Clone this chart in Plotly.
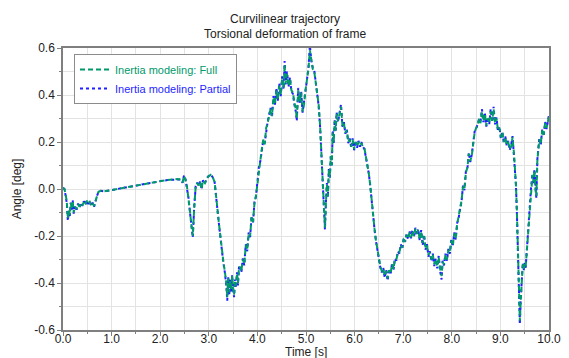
import plotly.graph_objects as go

# Time samples [s]
time_s = [
    0.00, 0.03, 0.06, 0.08, 0.10, 0.12, 0.14, 0.16, 0.18, 0.20, 0.22, 0.25, 0.28, 0.31, 0.34, 0.37,
    0.40, 0.43, 0.46, 0.49, 0.52, 0.55, 0.58, 0.61, 0.64, 0.67, 0.70, 0.73, 0.78, 0.85, 0.95, 1.05,
    1.15, 1.25, 1.35, 1.45, 1.55, 1.65, 1.75, 1.85, 1.95, 2.05, 2.15, 2.25, 2.35, 2.42, 2.46, 2.49,
    2.52, 2.55, 2.58, 2.61, 2.64, 2.67, 2.70, 2.73, 2.76, 2.79, 2.82, 2.85, 2.88, 2.92, 2.96, 3.00,
    3.04, 3.08, 3.12, 3.15, 3.18, 3.21, 3.24, 3.27, 3.30, 3.33, 3.36, 3.38, 3.40, 3.42, 3.44, 3.46,
    3.48, 3.50, 3.52, 3.54, 3.56, 3.58, 3.60, 3.62, 3.64, 3.67, 3.70, 3.73, 3.76, 3.79, 3.82, 3.85,
    3.88, 3.91, 3.94, 3.97, 4.00, 4.03, 4.06, 4.09, 4.12, 4.15, 4.18, 4.21, 4.24, 4.27, 4.30, 4.33,
    4.36, 4.39, 4.42, 4.45, 4.48, 4.51, 4.54, 4.56, 4.58, 4.61, 4.64, 4.67, 4.70, 4.73, 4.76, 4.79,
    4.81, 4.84, 4.87, 4.90, 4.93, 4.96, 4.99, 5.02, 5.05, 5.08, 5.11, 5.14, 5.17, 5.20, 5.23, 5.26,
    5.29, 5.32, 5.35, 5.37, 5.39, 5.41, 5.43, 5.45, 5.47, 5.49, 5.51, 5.53, 5.55, 5.57, 5.59, 5.61,
    5.63, 5.66, 5.69, 5.72, 5.75, 5.78, 5.81, 5.84, 5.87, 5.90, 5.93, 5.96, 5.99, 6.02, 6.05, 6.08,
    6.11, 6.14, 6.17, 6.20, 6.23, 6.26, 6.29, 6.32, 6.35, 6.38, 6.41, 6.44, 6.47, 6.50, 6.53, 6.56,
    6.59, 6.62, 6.65, 6.68, 6.71, 6.74, 6.77, 6.80, 6.83, 6.86, 6.89, 6.92, 6.95, 6.98, 7.01, 7.04,
    7.07, 7.10, 7.13, 7.16, 7.19, 7.22, 7.25, 7.28, 7.31, 7.34, 7.37, 7.40, 7.43, 7.46, 7.49, 7.52,
    7.55, 7.58, 7.61, 7.64, 7.67, 7.70, 7.73, 7.76, 7.79, 7.81, 7.84, 7.87, 7.90, 7.93, 7.96, 7.99,
    8.02, 8.05, 8.08, 8.11, 8.14, 8.17, 8.20, 8.23, 8.26, 8.29, 8.32, 8.35, 8.38, 8.41, 8.44, 8.47,
    8.50, 8.53, 8.56, 8.59, 8.62, 8.65, 8.68, 8.71, 8.74, 8.77, 8.80, 8.83, 8.86, 8.89, 8.92, 8.95,
    8.98, 9.01, 9.04, 9.07, 9.10, 9.13, 9.16, 9.19, 9.22, 9.25, 9.28, 9.30, 9.32, 9.34, 9.36, 9.38,
    9.40, 9.42, 9.44, 9.46, 9.48, 9.50, 9.52, 9.54, 9.57, 9.60, 9.63, 9.66, 9.68, 9.70, 9.72, 9.74,
    9.76, 9.78, 9.80, 9.83, 9.86, 9.89, 9.92, 9.95, 9.98, 10.00,
]

# Frame torsion angle [deg], full inertia model
angle_full = [
    0.005, 0.000, -0.030, -0.060, -0.125, -0.090, -0.110, -0.060, -0.085, -0.050, -0.100, -0.075, -0.085, -0.065, -0.075, -0.060,
    -0.070, -0.055, -0.065, -0.050, -0.062, -0.055, -0.070, -0.060, -0.072, -0.045, -0.030, -0.012, -0.008, -0.010, -0.006, -0.002,
    0.002, 0.006, 0.009, 0.013, 0.018, 0.021, 0.025, 0.029, 0.032, 0.035, 0.038, 0.040, 0.042, 0.040, 0.028, 0.055,
    0.040, 0.012, -0.030, -0.090, -0.150, -0.200, -0.080, 0.010, 0.025, 0.015, 0.030, 0.000, 0.035, 0.025, 0.045, 0.055,
    0.060, 0.050, 0.030, -0.020, -0.090, -0.150, -0.210, -0.260, -0.310, -0.350, -0.400, -0.460, -0.380, -0.440, -0.390, -0.430,
    -0.370, -0.420, -0.450, -0.390, -0.410, -0.360, -0.400, -0.340, -0.330, -0.350, -0.300, -0.320, -0.240, -0.260, -0.190, -0.200,
    -0.120, -0.140, -0.060, -0.030, 0.030, 0.090, 0.120, 0.170, 0.210, 0.190, 0.260, 0.280, 0.320, 0.340, 0.310, 0.390,
    0.360, 0.420, 0.380, 0.440, 0.400, 0.470, 0.430, 0.530, 0.450, 0.490, 0.440, 0.470, 0.420, 0.410, 0.370, 0.340,
    0.300, 0.420, 0.370, 0.410, 0.330, 0.360, 0.420, 0.460, 0.510, 0.590, 0.540, 0.510, 0.500, 0.450, 0.420, 0.360,
    0.270, 0.150, 0.020, -0.080, -0.165, -0.060, 0.020, -0.030, 0.080, 0.050, 0.140, 0.100, 0.240, 0.200, 0.290, 0.250,
    0.320, 0.290, 0.320, 0.350, 0.270, 0.280, 0.240, 0.250, 0.200, 0.210, 0.180, 0.210, 0.170, 0.200, 0.180, 0.200,
    0.185, 0.195, 0.180, 0.175, 0.140, 0.110, 0.070, 0.020, -0.050, -0.110, -0.170, -0.220, -0.260, -0.300, -0.330, -0.350,
    -0.340, -0.370, -0.350, -0.380, -0.345, -0.360, -0.320, -0.340, -0.300, -0.300, -0.270, -0.270, -0.240, -0.250, -0.215, -0.220,
    -0.195, -0.210, -0.185, -0.205, -0.180, -0.200, -0.170, -0.190, -0.175, -0.215, -0.180, -0.230, -0.200, -0.250, -0.240, -0.280,
    -0.270, -0.300, -0.280, -0.320, -0.300, -0.330, -0.290, -0.340, -0.370, -0.310, -0.320, -0.280, -0.300, -0.260, -0.270, -0.220,
    -0.240, -0.190, -0.210, -0.150, -0.120, -0.090, -0.050, 0.010, 0.000, 0.070, 0.090, 0.150, 0.120, 0.140, 0.200, 0.240,
    0.260, 0.270, 0.300, 0.280, 0.330, 0.290, 0.320, 0.270, 0.300, 0.280, 0.330, 0.290, 0.340, 0.280, 0.300, 0.250,
    0.260, 0.220, 0.240, 0.200, 0.220, 0.190, 0.200, 0.170, 0.180, 0.220, 0.150, 0.100, 0.020, -0.100, -0.250, -0.420,
    -0.560, -0.470, -0.380, -0.320, -0.340, -0.320, -0.330, -0.270, -0.180, -0.100, 0.000, 0.060, 0.030, 0.080, 0.000, -0.030,
    0.120, 0.180, 0.210, 0.190, 0.250, 0.230, 0.280, 0.260, 0.300, 0.310,
]

# Frame torsion angle [deg], partial inertia model
angle_partial = [
    0.005, 0.000, -0.035, -0.065, -0.135, -0.095, -0.115, -0.058, -0.088, -0.048, -0.105, -0.072, -0.088, -0.062, -0.078, -0.058,
    -0.072, -0.052, -0.068, -0.048, -0.064, -0.052, -0.073, -0.058, -0.075, -0.044, -0.029, -0.012, -0.008, -0.010, -0.006, -0.002,
    0.002, 0.006, 0.009, 0.013, 0.018, 0.021, 0.025, 0.029, 0.032, 0.035, 0.038, 0.040, 0.042, 0.041, 0.026, 0.058,
    0.041, 0.010, -0.035, -0.095, -0.155, -0.205, -0.078, 0.012, 0.027, 0.013, 0.032, -0.002, 0.037, 0.024, 0.046, 0.056,
    0.061, 0.050, 0.029, -0.022, -0.092, -0.152, -0.212, -0.262, -0.315, -0.355, -0.410, -0.475, -0.375, -0.450, -0.385, -0.440,
    -0.365, -0.430, -0.460, -0.385, -0.420, -0.355, -0.410, -0.335, -0.325, -0.355, -0.295, -0.325, -0.235, -0.265, -0.185, -0.205,
    -0.115, -0.145, -0.055, -0.032, 0.032, 0.092, 0.118, 0.175, 0.205, 0.195, 0.255, 0.285, 0.315, 0.345, 0.305, 0.395,
    0.355, 0.430, 0.375, 0.450, 0.395, 0.480, 0.425, 0.545, 0.445, 0.500, 0.435, 0.475, 0.415, 0.405, 0.360, 0.330,
    0.290, 0.430, 0.365, 0.415, 0.325, 0.365, 0.425, 0.465, 0.515, 0.610, 0.545, 0.515, 0.505, 0.455, 0.420, 0.355,
    0.265, 0.145, 0.015, -0.085, -0.172, -0.055, 0.025, -0.035, 0.085, 0.045, 0.145, 0.095, 0.250, 0.195, 0.295, 0.245,
    0.325, 0.285, 0.325, 0.360, 0.265, 0.285, 0.235, 0.255, 0.195, 0.215, 0.175, 0.215, 0.165, 0.205, 0.175, 0.205,
    0.180, 0.200, 0.178, 0.172, 0.138, 0.108, 0.068, 0.018, -0.052, -0.112, -0.172, -0.222, -0.262, -0.305, -0.335, -0.355,
    -0.335, -0.378, -0.345, -0.390, -0.340, -0.365, -0.315, -0.345, -0.295, -0.305, -0.265, -0.275, -0.235, -0.255, -0.210, -0.225,
    -0.190, -0.215, -0.180, -0.210, -0.175, -0.205, -0.165, -0.195, -0.170, -0.220, -0.175, -0.240, -0.195, -0.258, -0.235, -0.288,
    -0.265, -0.308, -0.275, -0.328, -0.295, -0.338, -0.285, -0.350, -0.385, -0.305, -0.325, -0.275, -0.305, -0.255, -0.275, -0.215,
    -0.245, -0.185, -0.215, -0.145, -0.125, -0.085, -0.055, 0.015, -0.005, 0.075, 0.085, 0.155, 0.115, 0.145, 0.195, 0.245,
    0.255, 0.275, 0.295, 0.285, 0.340, 0.285, 0.325, 0.265, 0.305, 0.275, 0.340, 0.285, 0.350, 0.275, 0.305, 0.245,
    0.265, 0.215, 0.245, 0.195, 0.225, 0.185, 0.205, 0.165, 0.185, 0.225, 0.145, 0.098, 0.015, -0.105, -0.260, -0.430,
    -0.575, -0.465, -0.385, -0.315, -0.345, -0.315, -0.335, -0.265, -0.175, -0.095, 0.005, 0.065, 0.025, 0.085, -0.005, -0.040,
    0.125, 0.185, 0.215, 0.185, 0.255, 0.225, 0.285, 0.255, 0.305, 0.315,
]

x_tick_vals = [0, 1, 2, 3, 4, 5, 6, 7, 8, 9, 10]
x_tick_text = ["0.0", "1.0", "2.0", "3.0", "4.0", "5.0", "6.0", "7.0", "8.0", "9.0", "10.0"]
y_tick_vals = [-0.6, -0.4, -0.2, 0.0, 0.2, 0.4, 0.6]
y_tick_text = ["-0.6", "-0.4", "-0.2", "0.0", "0.2", "0.4", "0.6"]

title_text = "Curvilinear trajectory"
subtitle_text = "Torsional deformation of frame"
x_label = "Time [s]"
y_label = "Angle [deg]"

GREEN = "#00996b"
BLUE = "#1f1fff"
FONT = "Liberation Sans, Arial, sans-serif"
TEXT = "#222222"
AXIS_GREY = "#7f7f7f"
GRID_GREY = "#e3e3e3"

W, H = 569, 358
ML, MR, MT, MB = 63, 20, 48, 28
plot_w = W - ML - MR
plot_h = H - MT - MB

fig = go.Figure()

fig.add_trace(go.Scatter(
    x=time_s, y=angle_partial, mode="lines",
    name=f"<span style='color:{BLUE}'>Inertia modeling: Partial</span>",
    line=dict(color=BLUE, width=2, dash="dot"),
    legendrank=2,
))
fig.add_trace(go.Scatter(
    x=time_s, y=angle_full, mode="lines",
    name=f"<span style='color:{GREEN}'>Inertia modeling: Full</span>",
    line=dict(color=GREEN, width=2, dash="5px,3px"),
    legendrank=1,
))

axis_common = dict(
    showline=True, linecolor=AXIS_GREY, linewidth=1.5, mirror=True,
    ticks="outside", ticklen=4, tickcolor=AXIS_GREY, tickwidth=1,
    showgrid=True, gridcolor=GRID_GREY, gridwidth=1,
    zeroline=False, automargin=False,
    tickfont=dict(family=FONT, size=12, color=TEXT),
)

# Two-line heading centred on the page, and the time-axis caption below the ticks
centre_x = (W / 2 - ML) / plot_w
for text, x_frac, y_px in [(title_text, centre_x, 19), (subtitle_text, centre_x, 34),
                           (x_label, 0.5, 351.5)]:
    fig.add_annotation(
        text=text, xref="paper", yref="paper",
        x=x_frac, y=(H - MB - y_px) / plot_h,
        xanchor="center", yanchor="middle", showarrow=False,
        font=dict(family=FONT, size=12, color=TEXT),
    )

fig.update_layout(
    width=W, height=H,
    margin=dict(l=ML, r=MR, t=MT, b=MB),
    paper_bgcolor="white", plot_bgcolor="white",
    font=dict(family=FONT, size=12, color=TEXT),
    xaxis=dict(
        range=[0, 10], tickvals=x_tick_vals, ticktext=x_tick_text,
        ticklabelstandoff=-7,
        minor=dict(dtick=0.5, tick0=0, ticks="outside", ticklen=2, tickcolor=AXIS_GREY,
                   showgrid=True, gridcolor=GRID_GREY),
        **axis_common,
    ),
    yaxis=dict(
        range=[-0.6, 0.6], tickvals=y_tick_vals, ticktext=y_tick_text,
        minor=dict(dtick=0.1, tick0=0, ticks="outside", ticklen=2, tickcolor=AXIS_GREY,
                   showgrid=True, gridcolor=GRID_GREY),
        title=dict(text=y_label, standoff=10, font=dict(family=FONT, size=12)),
        **axis_common,
    ),
    legend=dict(
        x=(74 - ML) / plot_w, y=(H - MB - 54) / plot_h, xanchor="left", yanchor="top",
        bgcolor="white", bordercolor="#8c8c8c", borderwidth=1,
        font=dict(family=FONT, size=11),
        tracegroupgap=0, itemwidth=30,
    ),
    showlegend=True,
)

fig.write_html("out.html")
